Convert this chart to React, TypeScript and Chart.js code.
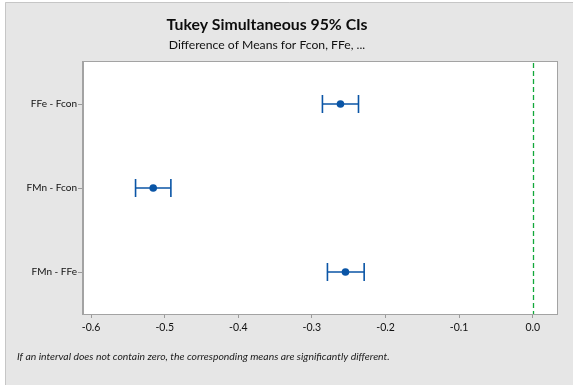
import React, { useEffect, useRef } from "react";
import { Chart, registerables } from "chart.js";

Chart.register(...registerables);

// Pairwise comparisons (top to bottom) with mean differences and Tukey 95% limits
const comparisons = ["FFe - Fcon", "FMn - Fcon", "FMn - FFe"];
const diffMeans = [-0.2612, -0.5156, -0.2544];
const lowerCI = [-0.2857, -0.5396, -0.2789];
const upperCI = [-0.2367, -0.4916, -0.229];

const xTickValues = [-0.6, -0.5, -0.4, -0.3, -0.2, -0.1, 0.0];
const xMin = -0.611;
const xMax = 0.033;
const zeroValue = 0;

const titleText = "Tukey Simultaneous 95% CIs";
const subtitleText = "Difference of Means for Fcon, FFe, ...";
const footnoteText =
  "If an interval does not contain zero, the corresponding means are significantly different.";

const W = 573;
const H = 385;
const BLUE = "#0a55a6";
const FRAME_BG = "#e6e6e6";

const decorPlugin = {
  id: "tukeyDecor",
  beforeDraw(chart: any) {
    const { ctx, chartArea } = chart;
    ctx.save();
    ctx.fillStyle = "#ffffff";
    ctx.fillRect(0, 0, W, H);
    ctx.fillStyle = FRAME_BG;
    ctx.fillRect(5, 2, W - 5, H - 2);
    ctx.strokeStyle = "#c6c6c6";
    ctx.lineWidth = 1;
    ctx.beginPath();
    ctx.moveTo(5.5, H);
    ctx.lineTo(5.5, 2.5);
    ctx.lineTo(W, 2.5);
    ctx.stroke();
    ctx.fillStyle = "#ffffff";
    ctx.fillRect(chartArea.left, chartArea.top, chartArea.right - chartArea.left, chartArea.bottom - chartArea.top);
    ctx.restore();
  },
  beforeDatasetsDraw(chart: any) {
    const { ctx, chartArea, scales } = chart;
    const xs = scales.x;
    const ys = scales.y;
    ctx.save();
    // reference line at zero
    const zx = Math.round(xs.getPixelForValue(zeroValue)) + 0.5;
    ctx.strokeStyle = "#12a83a";
    ctx.lineWidth = 1.3;
    ctx.setLineDash([5, 3]);
    ctx.beginPath();
    ctx.moveTo(zx, chartArea.top + 1);
    ctx.lineTo(zx, chartArea.bottom);
    ctx.stroke();
    ctx.setLineDash([]);
    // confidence intervals
    ctx.strokeStyle = BLUE;
    comparisons.forEach((c, i) => {
      const y = ys.getPixelForValue(i);
      const x0 = xs.getPixelForValue(lowerCI[i]);
      const x1 = xs.getPixelForValue(upperCI[i]);
      ctx.lineWidth = 1.6;
      ctx.beginPath();
      ctx.moveTo(x0, y);
      ctx.lineTo(x1, y);
      ctx.stroke();
      ctx.beginPath();
      ctx.moveTo(x0, y - 9);
      ctx.lineTo(x0, y + 9);
      ctx.moveTo(x1, y - 9);
      ctx.lineTo(x1, y + 9);
      ctx.stroke();
    });
    ctx.restore();
  },
  afterDraw(chart: any) {
    const { ctx, chartArea } = chart;
    ctx.save();
    ctx.strokeStyle = "#a3a3a3";
    ctx.lineWidth = 1;
    ctx.strokeRect(
      Math.round(chartArea.left) - 0.5,
      Math.round(chartArea.top) - 0.5,
      Math.round(chartArea.right - chartArea.left) + 1,
      Math.round(chartArea.bottom - chartArea.top) + 1
    );
    ctx.textAlign = "center";
    ctx.textBaseline = "middle";
    ctx.fillStyle = "#0d0d0d";
    ctx.font = "bold 15.8px Lato";
    ctx.fillText(titleText, 267, 25);
    ctx.font = "12.2px Lato";
    ctx.fillStyle = "#111111";
    ctx.fillText(subtitleText, 267, 45);
    ctx.textAlign = "left";
    ctx.font = "italic 10.4px Lato";
    ctx.fillStyle = "#1a1a1a";
    ctx.fillText(footnoteText, 17, 357);
    ctx.restore();
  },
};

export default function App() {
  const canvasRef = useRef<HTMLCanvasElement | null>(null);

  useEffect(() => {
    if (!canvasRef.current) return;
    const chart = new Chart(canvasRef.current, {
      type: "scatter",
      data: {
        labels: comparisons,
        datasets: [
          {
            label: "Difference of Means",
            data: comparisons.map((c, i) => ({ x: diffMeans[i], y: c })) as any,
            backgroundColor: BLUE,
            borderColor: BLUE,
            pointRadius: 3.8,
            pointBorderWidth: 0,
            showLine: false,
          },
        ],
      },
      options: {
        animation: false,
        responsive: false,
        devicePixelRatio: 1,
        layout: { padding: { left: 0, top: 62, right: 16, bottom: 0 } },
        plugins: {
          legend: { display: false },
          tooltip: { enabled: false },
          title: { display: false },
        },
        scales: {
          x: {
            type: "linear",
            min: xMin,
            max: xMax,
            afterBuildTicks: (s: any) => {
              s.ticks = xTickValues.map((v) => ({ value: v }));
            },
            afterFit: (s: any) => {
              s.height = 71;
            },
            grid: { drawOnChartArea: false, tickLength: 4, color: "#9a9a9a" },
            border: { display: true, color: "#a3a3a3" },
            ticks: {
              padding: 3,
              color: "#111111",
              font: { family: "Lato", size: 10.5 },
              callback: (v: any) => (Math.abs(Number(v)) < 1e-9 ? "0.0" : Number(v).toFixed(1)),
            },
          },
          y: {
            type: "category",
            labels: comparisons,
            offset: true,
            afterFit: (s: any) => {
              s.width = 83;
            },
            grid: { drawOnChartArea: false, tickLength: 5, color: "#9a9a9a", offset: false },
            border: { display: true, color: "#a3a3a3" },
            ticks: {
              padding: 1,
              color: "#111111",
              font: { family: "Lato", size: 10 },
            },
          },
        },
      },
      plugins: [decorPlugin],
    });
    return () => chart.destroy();
  }, []);

  return (
    <div style={{ position: "fixed", left: 0, top: 0, width: W, height: H }}>
      <canvas ref={canvasRef} width={W} height={H} style={{ display: "block", width: W, height: H }} />
    </div>
  );
}
